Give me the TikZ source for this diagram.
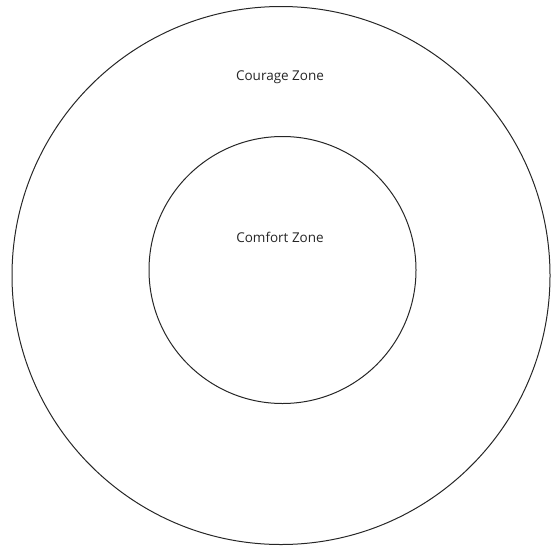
\documentclass[tikz,border=0pt]{standalone}
\usepackage{fontspec}
\setmainfont{Open Sans}
\begin{document}
\begin{tikzpicture}[x=1pt,y=-1pt,
  ring/.style={draw=black!85,line width=1pt,circle,inner sep=0pt},
  lbl/.style={font=\fontsize{13.5}{16}\selectfont,text=black!85,inner sep=0pt}]
\useasboundingbox (0,0) rectangle (553,546);
\node[ring,minimum size=538pt] (outer) at (281,275.5) {};
\node[ring,minimum size=267pt] (inner) at (282.5,270) {};
\node[lbl] (courage) at (280,77) {Courage Zone};
\node[lbl] (comfort) at (280,237) {Comfort Zone};
\end{tikzpicture}
\end{document}
